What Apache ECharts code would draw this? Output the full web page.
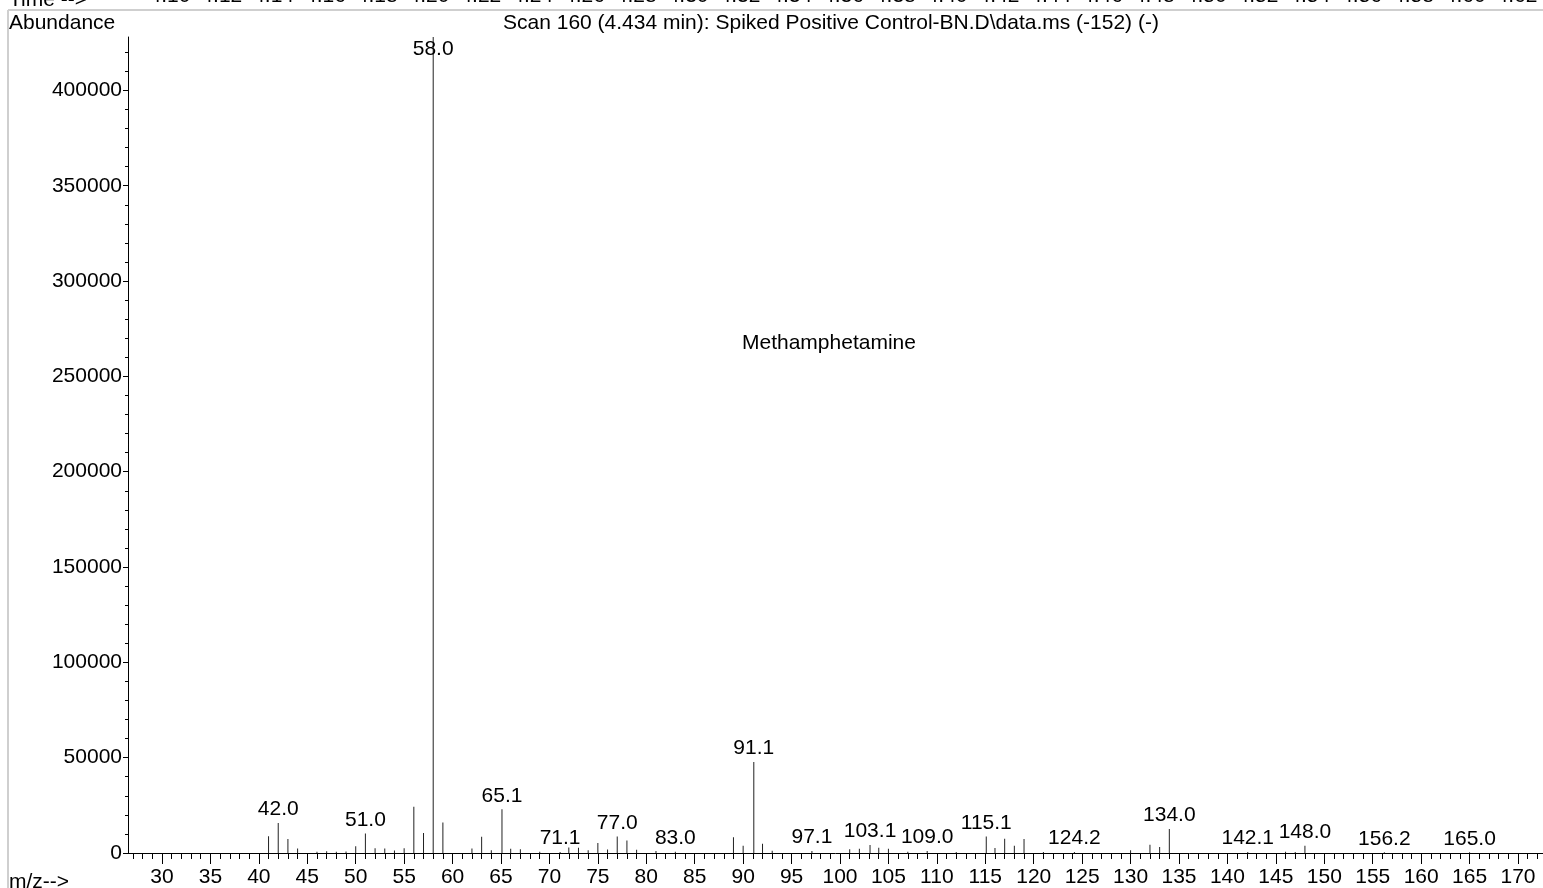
<!DOCTYPE html>
<html>
<head>
<meta charset="utf-8">
<script src="https://cdn.jsdelivr.net/npm/echarts@6/dist/echarts.min.js"></script>
<style>
html,body{margin:0;padding:0;background:#fff;}
#chart{width:1543px;height:888px;}
</style>
</head>
<body>
<div id="chart"></div>
<script>
// ---- data ----
const mz = [41, 42.0, 43, 44, 46, 47, 48, 49, 50, 51.0, 52, 53, 54, 55, 56, 57, 58.0, 59,
  62, 63, 64, 65.1, 66, 67, 69, 71.1, 72, 73, 74, 75, 76, 77.0, 78, 79, 81, 83.0,
  89, 90, 91.1, 92, 93, 97.1, 101, 102, 103.1, 104, 105, 107, 109.0, 112,
  115.1, 116, 117, 118, 119, 121, 124.2, 130, 132, 133, 134.0, 142.1, 146, 147, 148.0, 156.2, 165.0];
const abundance = [8800, 15700, 7300, 2300, 700, 900, 700, 800, 3500, 10200, 2500, 2300, 1300, 2500, 24200, 10500, 428000, 16000,
  2300, 8500, 1500, 22900, 2200, 2000, 700, 500, 2900, 2700, 1500, 5300, 1900, 8600, 6500, 1700, 1000, 600,
  8200, 3800, 47700, 4900, 1200, 1000, 2000, 2200, 4200, 2800, 2200, 600, 1000, 500,
  8700, 2600, 7500, 3800, 7300, 500, 500, 1500, 4300, 3100, 12600, 500, 600, 500, 3800, 400, 400];
const peakLabels = ['', '42.0', '', '', '', '', '', '', '', '51.0', '', '', '', '', '', '', '58.0', '',
  '', '', '', '65.1', '', '', '', '71.1', '', '', '', '', '', '77.0', '', '', '', '83.0',
  '', '', '91.1', '', '', '97.1', '', '', '103.1', '', '', '', '109.0', '',
  '115.1', '', '', '', '', '', '124.2', '', '', '', '134.0', '142.1', '', '', '148.0', '156.2', '165.0'];
const xMajorTicks = [30, 35, 40, 45, 50, 55, 60, 65, 70, 75, 80, 85, 90, 95, 100, 105, 110, 115, 120, 125, 130, 135, 140, 145, 150, 155, 160, 165, 170];
const yMajorTicks = [0, 50000, 100000, 150000, 200000, 250000, 300000, 350000, 400000];
const timeTicks = [4.10, 4.12, 4.14, 4.16, 4.18, 4.20, 4.22, 4.24, 4.26, 4.28, 4.30, 4.32, 4.34, 4.36, 4.38, 4.40, 4.42, 4.44, 4.46, 4.48, 4.50, 4.52, 4.54, 4.56, 4.58, 4.60, 4.62];
const titleText = 'Scan 160 (4.434 min): Spiked Positive Control-BN.D\\data.ms (-152) (-)';
const compoundName = 'Methamphetamine';

// ---- minor tick positions ----
const xMinorTicks = [];
for (let v = 27; v <= 172; v++) xMinorTicks.push(v);
const yMinorTicks = [];
for (let v = 0; v <= 420000; v += 10000) yMinorTicks.push(v);

const FONT = '"Liberation Sans", Arial, Helvetica, sans-serif';
const FS = 21;
const X_MIN = 26.49, X_MAX = 172.58, Y_MAX = 428000;

const seriesData = mz.map((m, i) => {
  const item = { value: [m, abundance[i]], lbl: peakLabels[i] };
  if (abundance[i] >= Y_MAX) {
    item.label = { position: 'insideTop', distance: 2 };
  }
  return item;
});

const chart = echarts.init(document.getElementById('chart'), null, { renderer: 'canvas' });
chart.setOption({
  animation: false,
  backgroundColor: '#fff',
  textStyle: { fontFamily: FONT },
  grid: [
    { left: 128, right: 0, top: 37, bottom: 35, containLabel: false },
    { left: 170, right: 26, top: 10, height: 1, containLabel: false }
  ],
  xAxis: [
    {
      type: 'value', gridIndex: 0, position: 'bottom', min: X_MIN, max: X_MAX,
      axisLine: { show: true, onZero: false, lineStyle: { color: '#000', width: 1 } },
      axisTick: { show: true, customValues: xMajorTicks, length: 11, lineStyle: { color: '#000' } },
      axisLabel: { show: true, customValues: xMajorTicks, margin: 14, fontSize: FS, color: '#000', fontFamily: FONT,
        formatter: v => String(v) },
      splitLine: { show: false }
    },
    {
      type: 'value', gridIndex: 0, position: 'bottom', min: X_MIN, max: X_MAX,
      axisLine: { show: false, onZero: false },
      axisTick: { show: true, customValues: xMinorTicks, length: 6, lineStyle: { color: '#000' } },
      axisLabel: { show: false },
      splitLine: { show: false }
    },
    {
      type: 'value', gridIndex: 1, position: 'top', min: 4.10, max: 4.62,
      axisLine: { show: false, onZero: false },
      axisTick: { show: false },
      axisLabel: { show: true, customValues: timeTicks, margin: 4, fontSize: FS, color: '#000', fontFamily: FONT,
        formatter: v => v.toFixed(2) },
      splitLine: { show: false }
    }
  ],
  yAxis: [
    {
      type: 'value', gridIndex: 0, position: 'left', min: 0, max: Y_MAX,
      axisLine: { show: true, onZero: false, lineStyle: { color: '#000', width: 1 } },
      axisTick: { show: true, customValues: yMajorTicks, length: 5, lineStyle: { color: '#000' } },
      axisLabel: { show: true, customValues: yMajorTicks, margin: 6, fontSize: FS, color: '#000', fontFamily: FONT,
        formatter: v => String(v) },
      splitLine: { show: false }
    },
    {
      type: 'value', gridIndex: 0, position: 'left', min: 0, max: Y_MAX,
      axisLine: { show: false, onZero: false },
      axisTick: { show: true, customValues: yMinorTicks, length: 3, lineStyle: { color: '#000' } },
      axisLabel: { show: false },
      splitLine: { show: false }
    },
    {
      type: 'value', gridIndex: 1, show: false, min: 0, max: 1
    }
  ],
  series: [
    {
      type: 'bar', xAxisIndex: 0, yAxisIndex: 0,
      barWidth: 1,
      itemStyle: { color: '#222' },
      data: seriesData,
      label: {
        show: true, position: 'top', distance: 3,
        fontSize: FS, color: '#000', fontFamily: FONT,
        formatter: p => p.data.lbl
      }
    }
  ],
  graphic: [
    { type: 'line', shape: { x1: 8, y1: 10, x2: 1543, y2: 10 }, style: { stroke: '#cfcfcf', lineWidth: 2 }, silent: true },
    { type: 'line', shape: { x1: 8, y1: 10, x2: 8, y2: 888 }, style: { stroke: '#cfcfcf', lineWidth: 2 }, silent: true },
    { type: 'text', left: 9, top: -10, style: { text: 'Time -->', font: FS + 'px ' + FONT, fill: '#000' } },
    { type: 'text', left: 9, top: 13, style: { text: 'Abundance', font: FS + 'px ' + FONT, fill: '#000' } },
    { type: 'text', left: 503, top: 13, style: { text: titleText, font: FS + 'px ' + FONT, fill: '#000' } },
    { type: 'text', left: 742, top: 333, style: { text: compoundName, font: FS + 'px ' + FONT, fill: '#000' } },
    { type: 'text', left: 9, top: 872, style: { text: 'm/z-->', font: FS + 'px ' + FONT, fill: '#000' } }
  ]
});
</script>
</body>
</html>
